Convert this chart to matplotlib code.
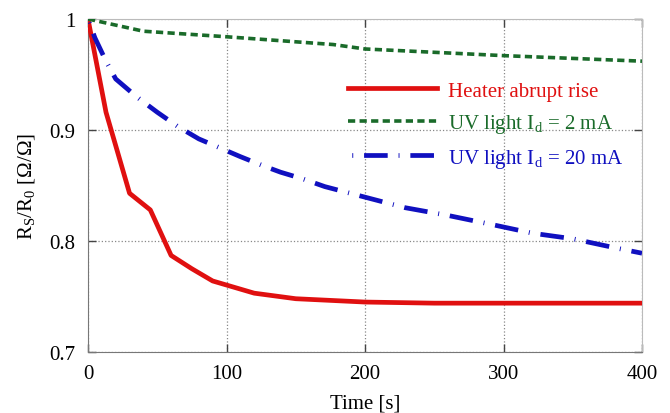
import matplotlib.pyplot as plt

plt.switch_backend('agg')
plt.rcParams['font.family'] = 'Liberation Serif'
plt.rcParams['mathtext.fontset'] = 'custom'
plt.rcParams['mathtext.rm'] = 'Liberation Serif'

# Datos
t_heater = [0, 13, 30, 45, 60, 75, 90, 120, 150, 200, 250, 400]
r_heater = [1.0, 0.916, 0.843, 0.828, 0.787, 0.775, 0.764, 0.753, 0.748, 0.745, 0.744, 0.744]

t_uv2 = [0, 40, 100, 177, 200, 300, 400]
r_uv2 = [1.0, 0.989, 0.984, 0.977, 0.973, 0.967, 0.962]

t_uv20 = [0, 5, 13, 20, 35, 50, 65, 80, 95, 110, 126, 139, 155, 171, 229, 260, 291, 321, 350, 380, 400]
r_uv20 = [1.0, 0.983, 0.962, 0.946, 0.930, 0.916, 0.903, 0.892, 0.884, 0.876, 0.868, 0.862, 0.856, 0.849,
          0.830, 0.823, 0.815, 0.807, 0.802, 0.794, 0.789]

labels = ['Heater abrupt rise', r'UV light I$_\mathrm{d}$ = 2 mA', r'UV light I$_\mathrm{d}$ = 20 mA']
colors = ['#e01010', '#1a6b2a', '#1010c0']

fig = plt.figure(figsize=(6.7, 4.14), dpi=100)
ax = fig.add_axes([88 / 670, 1 - 353 / 414, (642 - 88) / 670, (353 - 20) / 414])

ax.plot(t_heater, r_heater, color=colors[0], lw=3.4, label=labels[0], zorder=3)
ax.plot(t_uv2, r_uv2, color=colors[1], lw=2.6, linestyle=(0, (2, 1.2)), label=labels[1], zorder=3)
ax.plot(t_uv20, r_uv20, color=colors[2], lw=3.4, linestyle=(6.5, (5, 2.3, 0.2, 2.3)), label=labels[2], zorder=3)

ax.set_xlim(0, 400)
ax.set_ylim(0.7, 1.0)
ax.set_xticks([0, 100, 200, 300, 400])
ax.set_yticks([0.7, 0.8, 0.9, 1.0])
ax.set_yticklabels(['0.7', '0.8', '0.9', '1'])

ax.grid(True, color='#888888', linestyle=':', linewidth=0.9)
ax.tick_params(direction='in', length=6, width=1, color='#444444', top=True, right=True,
               labelsize=15, pad=9)
for s in ['top', 'right']:
    ax.spines[s].set_color('#bbbbbb')
for s in ['left', 'bottom']:
    ax.spines[s].set_color('#777777')

ax.set_xlabel('Time [s]', fontsize=15, labelpad=7)
ax.set_ylabel(r'R$_\mathrm{S}$/R$_\mathrm{0}$ [$\Omega$/$\Omega$]', fontsize=15, labelpad=8)

leg = ax.legend(loc='upper left', bbox_to_anchor=(0.435, 0.87), frameon=False, fontsize=15,
                handlelength=4.3, handletextpad=0.5, labelspacing=0.55, labelcolor=colors)

plt.savefig('out.png', dpi=100)
